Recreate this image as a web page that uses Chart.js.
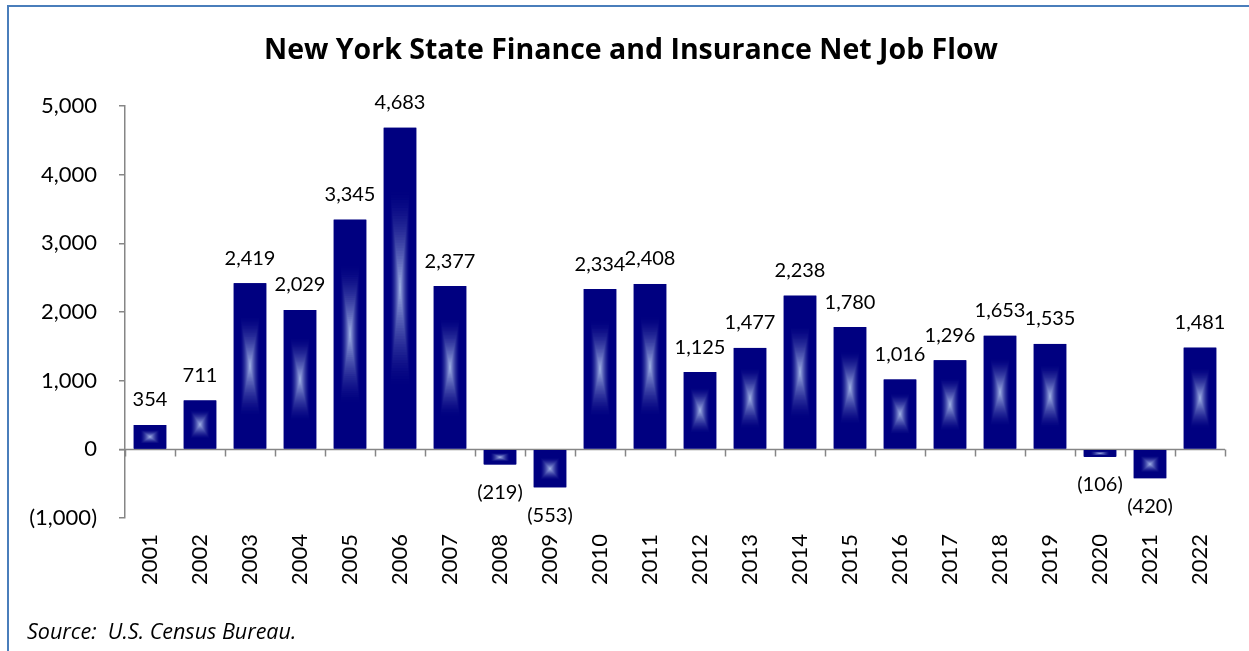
<!DOCTYPE html>
<html>
<head>
<meta charset="utf-8">
<title>NYS Finance and Insurance Net Job Flow</title>
<script src="https://cdn.jsdelivr.net/npm/chart.js@4.4.1/dist/chart.umd.min.js"></script>
<style>
  html, body { margin: 0; padding: 0; background: #fff; overflow: hidden; }
  .wrap { position: relative; width: 1249px; height: 651px; }
  .frame {
    position: absolute; left: 7px; top: 5px; width: 1400px; height: 800px;
    border-top: 2px solid #4a7ebb; border-left: 2px solid #4a7ebb;
    pointer-events: none;
  }
  .title {
    position: absolute; left: 0; top: 29px; width: 1262px; text-align: center;
    font: bold 28.5px "Open Sans", sans-serif; color: #000; white-space: nowrap;
  }
  .source {
    position: absolute; left: 27px; top: 616px;
    font: italic 21.5px "Open Sans", sans-serif; color: #000;
  }
  canvas { position: absolute; left: 0; top: 0; }
</style>
</head>
<body>
<div class="wrap">
  <canvas id="jobFlow" width="1249" height="651"></canvas>
  <div class="frame"></div>
  <div class="title">New York State Finance and Insurance Net Job Flow</div>
  <div class="source">Source:&nbsp; U.S. Census Bureau.</div>
</div>
<script>
/* ── Data ─────────────────────────────────────────────────── */
const years = ['2001','2002','2003','2004','2005','2006','2007','2008','2009','2010','2011',
               '2012','2013','2014','2015','2016','2017','2018','2019','2020','2021','2022'];
const netJobFlow = [354, 711, 2419, 2029, 3345, 4683, 2377, -219, -553, 2334, 2408,
                    1125, 1477, 2238, 1780, 1016, 1296, 1653, 1535, -106, -420, 1481];
const yTicks = [-1000, 0, 1000, 2000, 3000, 4000, 5000];

const FONT = 'Lato, "Open Sans", sans-serif';
const AXIS_GREY = '#868686';
const NAVY = [0, 0, 128];
const GLOW = [165, 182, 232];

// accounting style: negatives in parentheses
const fmt = v => v < 0 ? '(' + Math.abs(v).toLocaleString('en-US') + ')' : v.toLocaleString('en-US');

// colour for normalised distance from bar centre (0 = centre, 1 = edge)
function glowColor(t) {
  const edge = 0.62;
  if (t >= edge) return `rgb(${NAVY.join(',')})`;
  const k = Math.pow(1 - t / edge, 1.6);
  const c = NAVY.map((n, i) => Math.round(n + (GLOW[i] - n) * k));
  return `rgb(${c.join(',')})`;
}

/* ── Zero line with category tick marks ───────────────────── */
const zeroAxis = {
  id: 'zeroAxis',
  beforeDatasetsDraw(chart) {
    const { ctx, scales: { x, y }, chartArea } = chart;
    const y0 = Math.round(y.getPixelForValue(0)) + 0.5;
    ctx.save();
    ctx.strokeStyle = AXIS_GREY;
    ctx.lineWidth = 1.5;
    ctx.beginPath();
    ctx.moveTo(chartArea.left - 6, y0);
    ctx.lineTo(chartArea.right, y0);
    const step = (chartArea.right - chartArea.left) / years.length;
    for (let i = 0; i <= years.length; i++) {
      const px = Math.round(x.getPixelForValue(i) - step / 2) + 0.5;
      ctx.moveTo(px, y0);
      ctx.lineTo(px, y0 + 7);
    }
    ctx.stroke();
    ctx.restore();
  }
};

/* ── Rectangular "from centre" fill + value labels ────────── */
const barGlow = {
  id: 'barGlow',
  afterDatasetsDraw(chart) {
    const { ctx } = chart;
    const meta = chart.getDatasetMeta(0);
    ctx.save();
    meta.data.forEach((bar, i) => {
      const { x, y, base, width } = bar.getProps(['x', 'y', 'base', 'width'], true);
      const top = Math.min(y, base), h = Math.abs(base - y);
      const cx = x, cy = top + h / 2;
      const steps = 60;
      for (let s = steps; s >= 1; s--) {
        const t = s / steps;
        ctx.fillStyle = glowColor(t);
        ctx.fillRect(cx - t * width / 2, cy - t * h / 2, t * width, t * h);
      }

      const v = netJobFlow[i];
      ctx.fillStyle = '#000';
      ctx.font = `20px ${FONT}`;
      ctx.textAlign = 'center';
      ctx.textBaseline = 'middle';
      if (v >= 0) ctx.fillText(fmt(v), x, y - 25);
      else ctx.fillText(fmt(v), x, y + 28);
    });
    ctx.restore();
  }
};

/* ── Chart ────────────────────────────────────────────────── */
new Chart(document.getElementById('jobFlow').getContext('2d'), {
  type: 'bar',
  data: {
    labels: years,
    datasets: [{
      data: netJobFlow,
      backgroundColor: '#000080',
      borderWidth: 0,
      categoryPercentage: 1,
      barPercentage: 0.65
    }]
  },
  options: {
    responsive: false,
    animation: false,
    layout: { padding: { left: 0, right: 24, top: 106, bottom: 0 } },
    plugins: {
      legend: { display: false },
      tooltip: { enabled: false },
      title: { display: false }
    },
    scales: {
      x: {
        grid: { display: false },
        border: { display: false },
        ticks: {
          color: '#000',
          font: { family: FONT, size: 22 },
          minRotation: 90,
          maxRotation: 90,
          padding: 8
        },
        afterFit: s => { s.height = 133; }
      },
      y: {
        min: yTicks[0],
        max: yTicks[yTicks.length - 1],
        afterBuildTicks: s => { s.ticks = yTicks.map(v => ({ value: v })); },
        ticks: {
          color: '#000',
          font: { family: FONT, size: 22 },
          padding: 22,
          callback: v => fmt(v)
        },
        grid: { drawOnChartArea: false, tickLength: 6, color: AXIS_GREY, lineWidth: 1.5 },
        border: { color: AXIS_GREY, width: 1.5 },
        afterFit: s => { s.width = 125; }
      }
    }
  },
  plugins: [zeroAxis, barGlow]
});
</script>
</body>
</html>
